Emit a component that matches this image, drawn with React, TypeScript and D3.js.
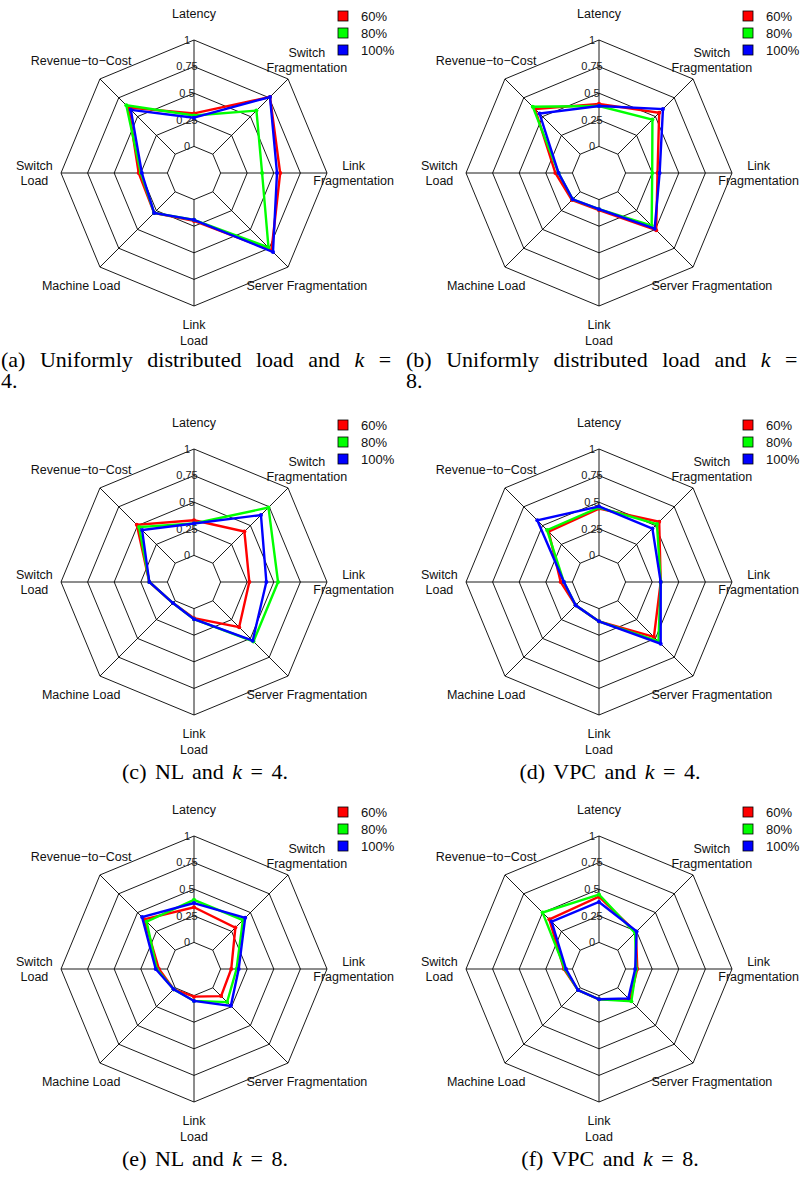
import * as d3 from 'd3'

// axis order, clockwise from the top
const axisLabels = [
  ['Latency'],
  ['Switch', 'Fragmentation'],
  ['Link', 'Fragmentation'],
  ['Server Fragmentation'],
  ['Link', 'Load'],
  ['Machine Load'],
  ['Switch', 'Load'],
  ['Revenue\u2212to\u2212Cost'],
]
const tickValues = [0, 0.25, 0.5, 0.75, 1]
const tickLabels = ['0', '0.25', '0.5', '0.75', '1']
const seriesNames = ['60%', '80%', '100%']
const seriesColors = ['#ff0000', '#00ff00', '#0000ff']

// [Latency, SwitchFrag, LinkFrag, ServerFrag, LinkLoad, MachineLoad, SwitchLoad, RevToCost]
const uniformK4 = [
  [0.31, 0.76, 0.56, 0.78, 0.2, 0.28, 0.27, 0.62],
  [0.29, 0.58, 0.39, 0.74, 0.19, 0.28, 0.25, 0.65],
  [0.27, 0.76, 0.53, 0.8, 0.19, 0.28, 0.24, 0.59],
]
const uniformK8 = [
  [0.4, 0.55, 0.3, 0.51, 0.1, 0.11, 0.16, 0.6],
  [0.38, 0.46, 0.25, 0.45, 0.09, 0.1, 0.13, 0.63],
  [0.38, 0.6, 0.32, 0.49, 0.09, 0.1, 0.13, 0.54],
]
const nlK4 = [
  [0.33, 0.42, 0.27, 0.35, 0.09, 0.03, 0.17, 0.51],
  [0.3, 0.74, 0.54, 0.54, 0.1, 0.03, 0.17, 0.48],
  [0.3, 0.64, 0.43, 0.53, 0.1, 0.03, 0.17, 0.44],
]
const vpcK4 = [
  [0.44, 0.55, 0.33, 0.48, 0.12, 0.06, 0.11, 0.42],
  [0.45, 0.52, 0.33, 0.54, 0.12, 0.06, 0.08, 0.44],
  [0.46, 0.46, 0.33, 0.57, 0.12, 0.06, 0.08, 0.57],
]
const nlK8 = [
  [0.33, 0.3, 0.1, 0.11, 0.01, 0.02, 0.08, 0.41],
  [0.4, 0.4, 0.15, 0.19, 0.05, 0.02, 0.1, 0.38],
  [0.37, 0.43, 0.17, 0.24, 0.05, 0.02, 0.11, 0.44],
]
const vpcK8 = [
  [0.43, 0.24, 0.11, 0.16, 0.035, 0.03, 0.08, 0.41],
  [0.45, 0.23, 0.1, 0.18, 0.035, 0.03, 0.07, 0.5],
  [0.38, 0.25, 0.09, 0.14, 0.035, 0.03, 0.06, 0.38],
]

const captions = [
  { tag: '(a) Uniformly distributed load and ', eq: ' =', tail: '4.', long: true },
  { tag: '(b) Uniformly distributed load and ', eq: ' =', tail: '8.', long: true },
  { tag: '(c) NL and ', eq: ' = 4.', tail: '', long: false },
  { tag: '(d) VPC and ', eq: ' = 4.', tail: '', long: false },
  { tag: '(e) NL and ', eq: ' = 8.', tail: '', long: false },
  { tag: '(f) VPC and ', eq: ' = 8.', tail: '', long: false },
]
const panels = [uniformK4, uniformK8, nlK4, vpcK4, nlK8, vpcK8]

const W = 809
const H = 1178
const R = 133
const colX = [194, 599]
const colLeft = [0, 405]
const rowY = [173, 582, 969]
const sans = 'Liberation Sans, Arial, sans-serif'
const serif = 'Liberation Serif, Times New Roman, serif'

function RadarPanel({ data, idx }: { data: number[][]; idx: number }) {
  const col = idx % 2
  const cx = colX[col]
  const cy = rowY[Math.floor(idx / 2)]
  const n = axisLabels.length
  const r = d3.scaleLinear().domain([0, 1]).range([R / 5, R])
  const angle = d3.scaleLinear().domain([0, n]).range([0, 2 * Math.PI])
  const idxs = d3.range(n)

  const ring = (v: number) =>
    d3.lineRadial<number>()
      .angle(i => angle(i))
      .radius(() => r(v))
      .curve(d3.curveLinearClosed)(idxs) || ''

  const shape = (vals: number[]) =>
    d3.lineRadial<number>()
      .angle((_, i) => angle(i))
      .radius(v => r(v))
      .curve(d3.curveLinearClosed)(vals) || ''

  const cap = captions[idx]

  return (
    <g>
      <g transform={`translate(${cx},${cy})`}>
        {tickValues.map(v => (
          <path key={v} d={ring(v)} fill="none" stroke="#000" strokeWidth={0.9} />
        ))}
        {idxs.map(i => {
          const [x0, y0] = d3.pointRadial(angle(i), r(0))
          const [x1, y1] = d3.pointRadial(angle(i), r(1))
          return <line key={i} x1={x0} y1={y0} x2={x1} y2={y1} stroke="#000" strokeWidth={0.9} />
        })}
        {tickValues.map((v, i) => (
          <text key={v} x={-7} y={-r(v)} dy="0.35em" textAnchor="middle"
            fontFamily={sans} fontSize={11} fill="#222">{tickLabels[i]}</text>
        ))}
        {data.map((vals, s) => (
          <g key={s}>
            <path d={shape(vals)} fill="none" stroke={seriesColors[s]} strokeWidth={2.4}
              strokeLinejoin="miter" />
            {vals.map((v, i) => {
              const [px, py] = d3.pointRadial(angle(i), r(v))
              return <circle key={i} cx={px} cy={py} r={2} fill={seriesColors[s]} />
            })}
          </g>
        ))}
        {axisLabels.map((lines, i) => {
          const [lx, ly] = d3.pointRadial(angle(i), R * 1.2)
          const lh = 15.5
          const top = ly - ((lines.length - 1) * lh) / 2
          return (
            <text key={i} textAnchor="middle" fontFamily={sans} fontSize={12.5} fill="#111">
              {lines.map((t, j) => (
                <tspan key={j} x={lx} y={top + j * lh} dy="0.35em">{t}</tspan>
              ))}
            </text>
          )
        })}
        {seriesNames.map((name, s) => (
          <g key={name} transform={`translate(144,${-157 + s * 17})`}>
            <rect x={0} y={-5} width={10} height={10} fill={seriesColors[s]} stroke="#000" strokeWidth={0.8} />
            <text x={23} y={0} dy="0.35em" fontFamily={sans} fontSize={13} fill="#111">{name}</text>
          </g>
        ))}
      </g>
      {cap.long ? (
        <g fontFamily={serif} fontSize={22} fill="#000">
          <text x={colLeft[col] + 1} y={cy + 194} wordSpacing={9}>
            <tspan>{cap.tag}</tspan>
            <tspan fontStyle="italic">k</tspan>
            <tspan>{cap.eq}</tspan>
          </text>
          <text x={colLeft[col] + 1} y={cy + 215}>{cap.tail}</text>
        </g>
      ) : (
        <text x={cx + 11} y={cy + 197} textAnchor="middle" fontFamily={serif} fontSize={22}
          fill="#000" wordSpacing={3}>
          <tspan>{cap.tag}</tspan>
          <tspan fontStyle="italic">k</tspan>
          <tspan>{cap.eq}</tspan>
        </text>
      )}
    </g>
  )
}

export default function App() {
  return (
    <svg width={W} height={H} style={{ position: 'absolute', left: 0, top: 0, background: '#fff' }}>
      <rect width={W} height={H} fill="#fff" />
      {panels.map((p, i) => (
        <RadarPanel key={i} data={p} idx={i} />
      ))}
    </svg>
  )
}
